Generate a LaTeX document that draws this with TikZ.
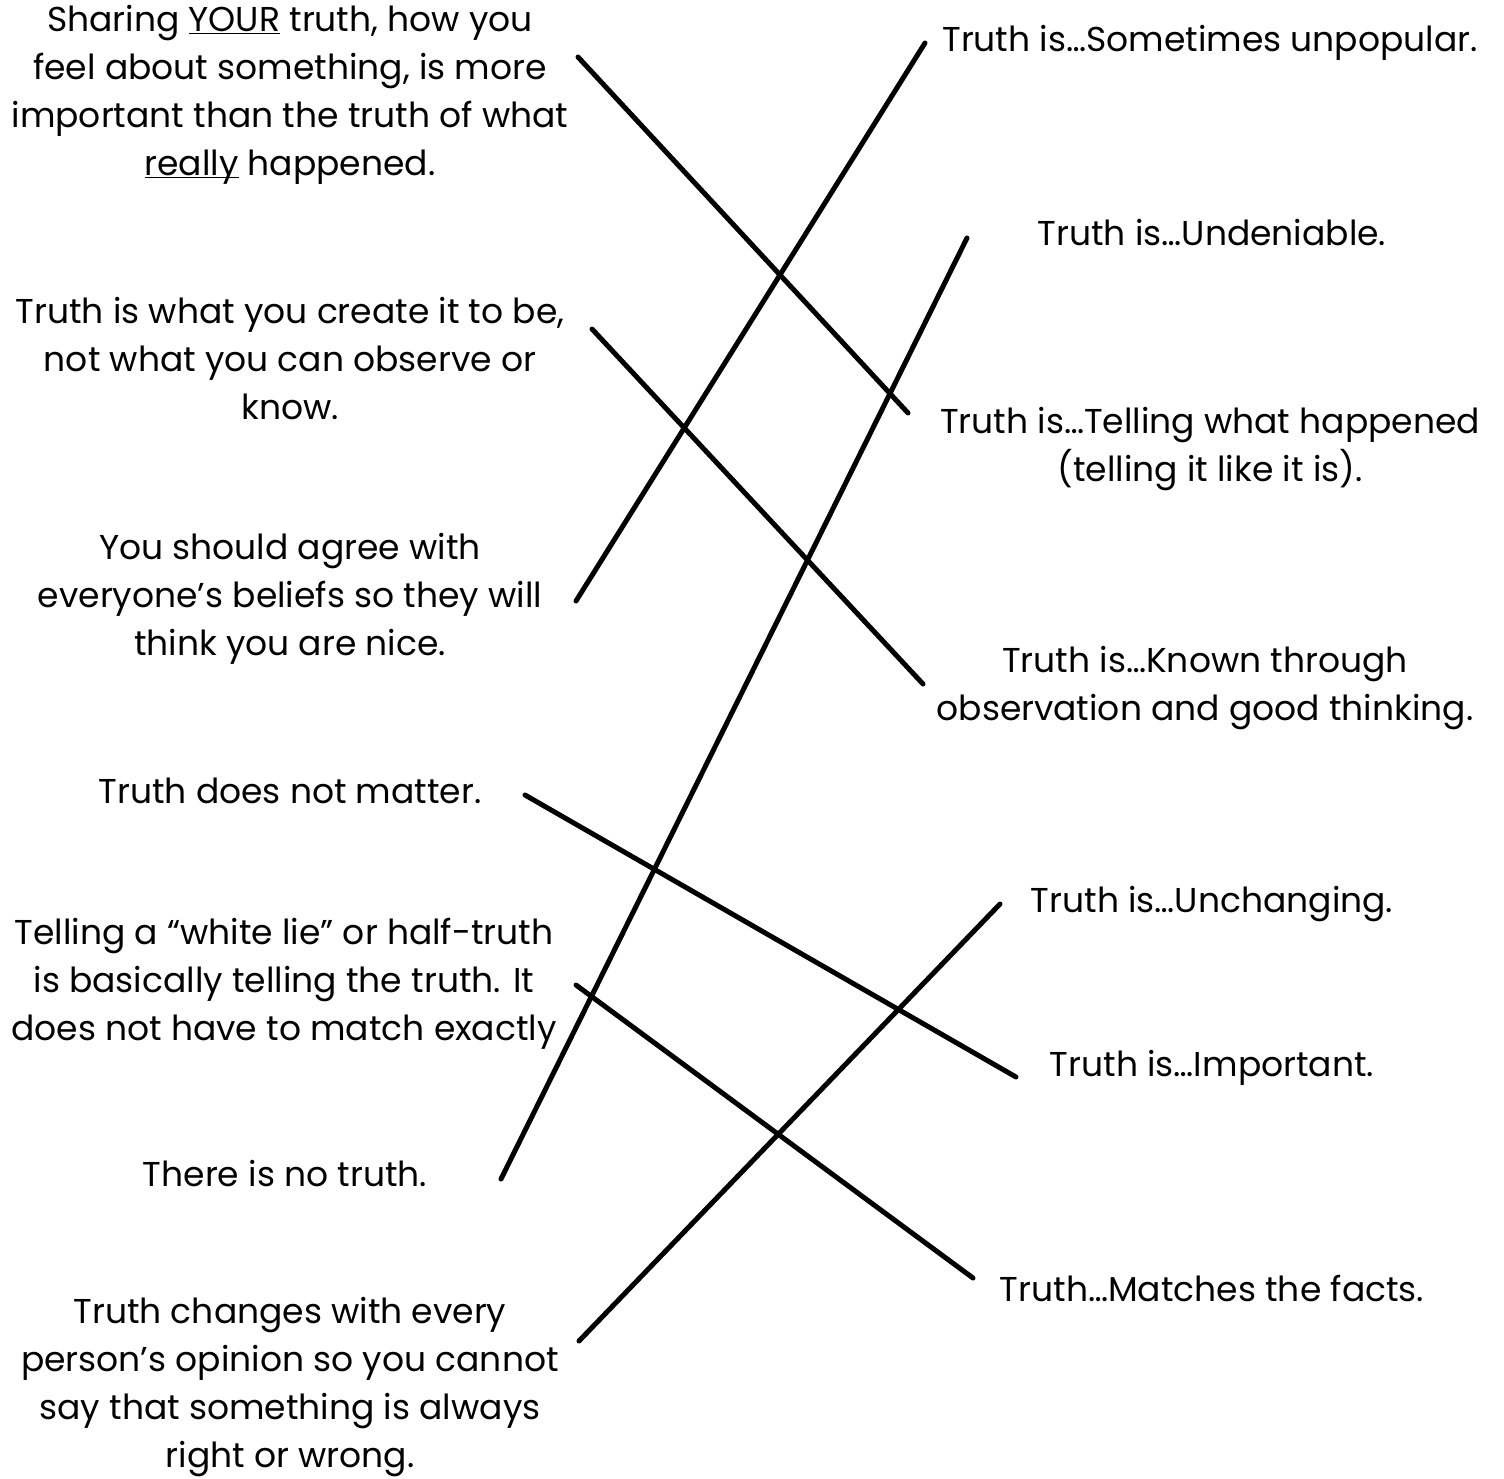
\documentclass[tikz,border=0pt]{standalone}
\usepackage{fontspec}
\setmainfont{Poppins}
\usetikzlibrary{positioning}

\tikzset{
  stmt/.style={align=center, inner sep=0pt, font=\fontsize{34.5}{48}\selectfont},
  link/.style={line width=5pt, line cap=round},
}
\newcommand{\undl}[1]{\underline{\smash{#1}}}

\begin{document}
\begin{tikzpicture}[x=1pt, y=-1pt]
    \useasboundingbox (0,0) rectangle (1504,1479);

    % left column
    \node[stmt] (share) at (290,95) {Sharing \undl{YOUR} truth, how you\\ feel about something, is more\\ important than the truth of what\\ \undl{really} happened.};
    \node[stmt] (create) at (290,359) {Truth is what you create it to be,\\ not what you can observe or\\ know.};
    \node[stmt] (agree) at (290,599) {You should agree with\\ everyone’s beliefs so they will\\ think you are nice.};
    \node[stmt] (matter) at (290,791) {Truth does not matter.};
    \node[stmt] (white) at (284,984) {Telling a “white lie” or half-truth\\ is basically telling the truth. It\\ does not have to match exactly};
    \node[stmt] (none) at (285,1174) {There is no truth.};
    \node[stmt] (opinion) at (290,1387) {Truth changes with every\\ person’s opinion so you cannot\\ say that something is always\\ right or wrong.};

    % right column
    \node[stmt] (unpop) at (1210,43) {Truth is…Sometimes unpopular.};
    \node[stmt] (undeny) at (1212,233) {Truth is…Undeniable.};
    \node[stmt] (telling) at (1210,449) {Truth is…Telling what happened\\ (telling it like it is).};
    \node[stmt] (known) at (1205,688) {Truth is…Known through\\ observation and good thinking.};
    \node[stmt] (unchg) at (1212,904) {Truth is…Unchanging.};
    \node[stmt] (import) at (1212,1068) {Truth is…Important.};
    \node[stmt] (facts) at (1212,1288) {Truth…Matches the facts.};

    % line ends
    \coordinate (share-e) at (578,57);    \coordinate (telling-w) at (908,413);
    \coordinate (unpop-w) at (925,43);    \coordinate (agree-e) at (576,601);
    \coordinate (undeny-w) at (967,238);  \coordinate (none-e) at (501,1179);
    \coordinate (create-e) at (592,329);  \coordinate (known-w) at (923,684);
    \coordinate (matter-e) at (525,795);  \coordinate (import-w) at (1016,1077);
    \coordinate (unchg-w) at (1000,904);  \coordinate (opinion-e) at (579,1341);
    \coordinate (white-e) at (576,985);   \coordinate (facts-w) at (973,1278);

    % matching lines
    \draw[link] (share-e) -- (telling-w);
    \draw[link] (unpop-w) -- (agree-e);
    \draw[link] (undeny-w) -- (none-e);
    \draw[link] (create-e) -- (known-w);
    \draw[link] (matter-e) -- (import-w);
    \draw[link] (unchg-w) -- (opinion-e);
    \draw[link] (white-e) -- (facts-w);
\end{tikzpicture}
\end{document}
